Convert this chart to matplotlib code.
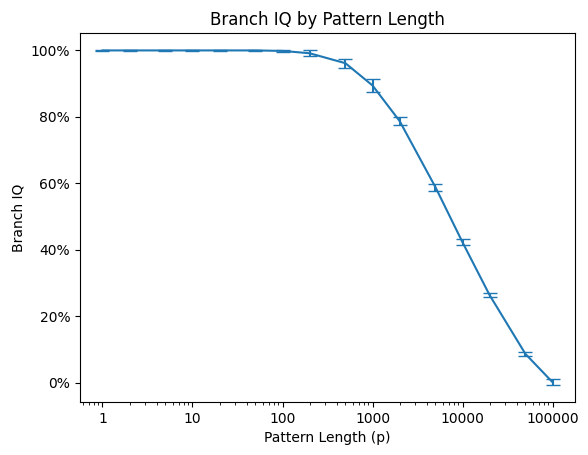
import matplotlib
matplotlib.use("Agg")
import matplotlib.pyplot as plt
import matplotlib.ticker as mticker

# pattern lengths and measured branch IQ (fraction) with std errors
pattern_len = [1, 2, 5, 10, 20, 50, 100, 200, 500, 1000, 2000, 5000, 10000, 20000, 50000, 100000]
branch_iq = [0.9995, 0.9995, 0.9995, 0.9995, 0.9995, 0.9995, 0.998, 0.991, 0.961, 0.894, 0.787, 0.588, 0.422, 0.263, 0.086, 0.001]
branch_err = [0.002, 0.0015, 0.0015, 0.0015, 0.0015, 0.0015, 0.002, 0.0085, 0.0135, 0.0205, 0.0125, 0.0105, 0.009, 0.006, 0.006, 0.009]

fig = plt.figure(figsize=(5.88, 4.55), dpi=100)
ax = fig.add_axes([0.136, 0.1165, 0.842, 0.811])

ax.errorbar(pattern_len, branch_iq, yerr=branch_err, capsize=5, color='tab:blue')
ax.set_xscale('log')
ax.xaxis.set_major_formatter(mticker.FuncFormatter(lambda v, p: '%d' % v if v >= 1 else ''))
ax.yaxis.set_major_formatter(mticker.PercentFormatter(1.0, decimals=0))

ax.set_xlabel('Pattern Length (p)')
ax.set_ylabel('Branch IQ')
ax.set_title('Branch IQ by Pattern Length')

fig.savefig('out.png')
